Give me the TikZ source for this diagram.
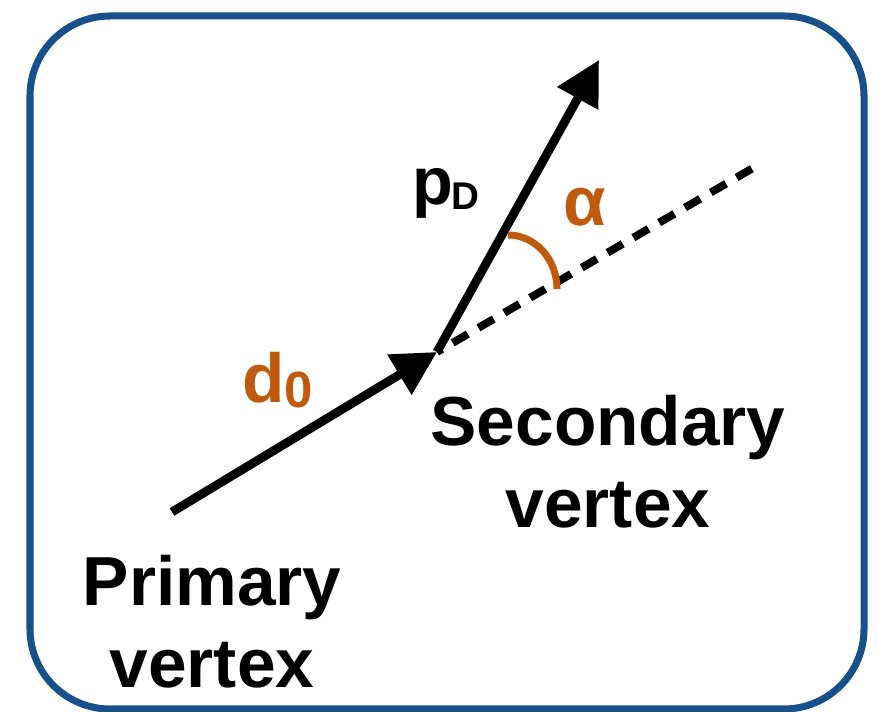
\documentclass[tikz,border=0pt]{standalone}
\usepackage{fontspec}
\setmainfont{Liberation Sans}
\usepackage{xcolor}
\usepackage{tikz}
\usetikzlibrary{arrows.meta}
\definecolor{frameblue}{RGB}{24,80,138}
\definecolor{burnt}{RGB}{191,90,14}
\tikzset{
  vec/.style={line width=5pt,-{Triangle[length=25pt,width=25.5pt]}},
  lbl/.style={inner sep=0pt,font=\fontsize{39.5}{46.5}\selectfont\bfseries}
}

\begin{document}
\begin{tikzpicture}
\useasboundingbox (0,0) rectangle (17.56,14.24);
\draw[frameblue,line width=4pt,rounded corners=1.6cm] (0.60,0.06) rectangle (17.28,13.92);
\coordinate (pv) at (3.44,4.00);
\coordinate (sv) at (8.74,7.20);
\coordinate (tip) at (11.98,13.04);
\coordinate (far) at (15.06,10.88);
\draw[line width=4.5pt,dash pattern=on 10pt off 7pt,dash phase=6.7pt] (sv) -- (far);
\draw[vec] (pv) -- (sv);
\draw[vec] (sv) -- (tip);
\draw[burnt,line width=4pt] (10.16,9.54) .. controls (10.70,9.54) and (11.14,9.06) .. (11.14,8.46);
\node[lbl,anchor=base west] (pdlabel) at (8.24,10.14) {\fontsize{38}{38}\selectfont p\kern-1pt\raisebox{-2.8pt}{\fontsize{22}{22}\selectfont D}};
\node[lbl,burnt,anchor=base] (alpha) at (11.70,9.72) {α};
\node[lbl,burnt,anchor=base west] (dlabel) at (4.84,6.18) {d\raisebox{-2.3pt}{\fontsize{29}{29}\selectfont 0}};
\node[lbl,align=center,anchor=north] (primary) at (4.24,3.14) {Primary\\vertex};
\node[lbl,align=center,anchor=north] (secondary) at (12.16,6.34) {Secondary\\vertex};
\end{tikzpicture}
\end{document}
